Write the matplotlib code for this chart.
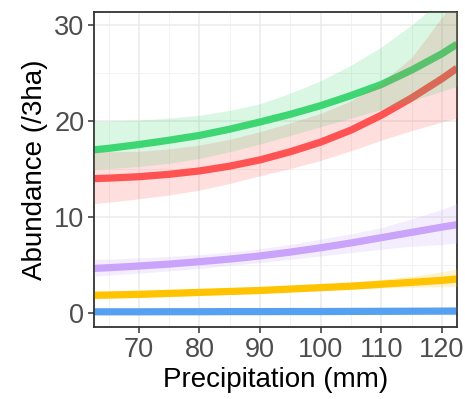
import matplotlib
matplotlib.use("Agg")
import matplotlib.pyplot as plt
from matplotlib.ticker import MultipleLocator

plt.rcParams["font.family"] = ["Liberation Sans", "DejaVu Sans"]

# 降水量取样点 (mm)
precip = [62.6, 65, 70, 75, 80, 85, 90, 95, 100, 105, 110, 115, 120, 122.5]

# 各组：均值、上限、下限
green = [17.0, 17.15, 17.55, 18.0, 18.5, 19.15, 19.9, 20.7, 21.6, 22.65, 23.8, 25.3, 27.0, 28.0]
green_hi = [20.0, 20.0, 20.1, 20.3, 20.6, 21.1, 21.8, 22.9, 24.2, 25.8, 27.7, 30.0, 32.6, 34.0]
green_lo = [15.0, 15.05, 15.25, 15.6, 16.1, 16.8, 17.6, 18.5, 19.4, 20.3, 21.2, 22.1, 23.1, 23.6]

red = [14.0, 14.05, 14.2, 14.45, 14.8, 15.3, 15.95, 16.8, 17.8, 19.05, 20.6, 22.4, 24.4, 25.5]
red_hi = [16.8, 16.8, 16.85, 17.1, 17.5, 18.1, 18.9, 19.8, 20.8, 22.1, 24.0, 26.6, 30.8, 33.0]
red_lo = [11.4, 11.55, 11.9, 12.3, 12.8, 13.5, 14.3, 15.05, 15.9, 16.9, 18.0, 19.0, 19.9, 20.3]

purple = [4.65, 4.72, 4.9, 5.1, 5.35, 5.62, 5.95, 6.35, 6.8, 7.3, 7.85, 8.4, 8.95, 9.2]
purple_hi = [5.6, 5.62, 5.75, 5.9, 6.1, 6.35, 6.7, 7.15, 7.7, 8.25, 8.9, 9.8, 10.8, 11.4]
purple_lo = [3.85, 3.95, 4.15, 4.4, 4.65, 4.95, 5.25, 5.6, 5.95, 6.3, 6.65, 6.95, 7.15, 7.3]

yellow = [1.85, 1.88, 1.95, 2.05, 2.15, 2.25, 2.35, 2.5, 2.65, 2.8, 3.0, 3.2, 3.4, 3.55]
yellow_hi = [2.25, 2.28, 2.33, 2.4, 2.48, 2.56, 2.65, 2.8, 3.0, 3.22, 3.5, 3.85, 4.3, 4.6]
yellow_lo = [1.5, 1.53, 1.6, 1.7, 1.82, 1.95, 2.08, 2.22, 2.35, 2.48, 2.6, 2.68, 2.73, 2.75]

blue = [0.13, 0.13, 0.13, 0.14, 0.14, 0.15, 0.15, 0.16, 0.16, 0.17, 0.18, 0.19, 0.2, 0.2]
blue_hi = [0.2, 0.2, 0.21, 0.22, 0.23, 0.25, 0.27, 0.3, 0.33, 0.37, 0.42, 0.5, 0.6, 0.68]
blue_lo = [0.08, 0.08, 0.08, 0.09, 0.09, 0.1, 0.1, 0.1, 0.1, 0.1, 0.1, 0.1, 0.1, 0.1]

groups = [
    (blue, blue_lo, blue_hi, "#56a0f2"),
    (yellow, yellow_lo, yellow_hi, "#ffc300"),
    (purple, purple_lo, purple_hi, "#c9a4fa"),
    (red, red_lo, red_hi, "#ff5252"),
    (green, green_lo, green_hi, "#3dd672"),
]

fig = plt.figure(figsize=(4.65, 3.99), dpi=100)
ax = fig.add_axes([0.2022, 0.1805, 0.7806, 0.7894])

# 先画线，再画置信带（带子盖在线上）
for mean, lo, hi, col in groups:
    ax.plot(precip, mean, color=col, lw=5.2, solid_capstyle="butt", zorder=2)
for mean, lo, hi, col in groups:
    ax.fill_between(precip, lo, hi, color=col, alpha=0.19, lw=0, zorder=3)

ax.set_xlim(62.6, 122.5)
ax.set_ylim(-1.45, 31.35)
ax.xaxis.set_major_locator(MultipleLocator(10))
ax.xaxis.set_minor_locator(MultipleLocator(5))
ax.yaxis.set_major_locator(MultipleLocator(10))
ax.yaxis.set_minor_locator(MultipleLocator(5))

ax.grid(which="major", color="#ebebeb", lw=1.1, zorder=0)
ax.grid(which="minor", color="#f0f0f0", lw=0.6, zorder=0)
ax.set_axisbelow(True)

for sp in ax.spines.values():
    sp.set_color("#333333")
    sp.set_linewidth(1.3)

ax.tick_params(which="major", direction="out", length=4, width=1.1,
               color="#333333", labelcolor="#4d4d4d", labelsize=19.5, pad=3)
ax.tick_params(which="minor", length=0)

ax.set_xlabel("Precipitation (mm)", fontsize=20, color="black", labelpad=3)
ax.set_ylabel("Abundance (/3ha)", fontsize=20, color="black", labelpad=4)

fig.savefig("out.png", dpi=100)
